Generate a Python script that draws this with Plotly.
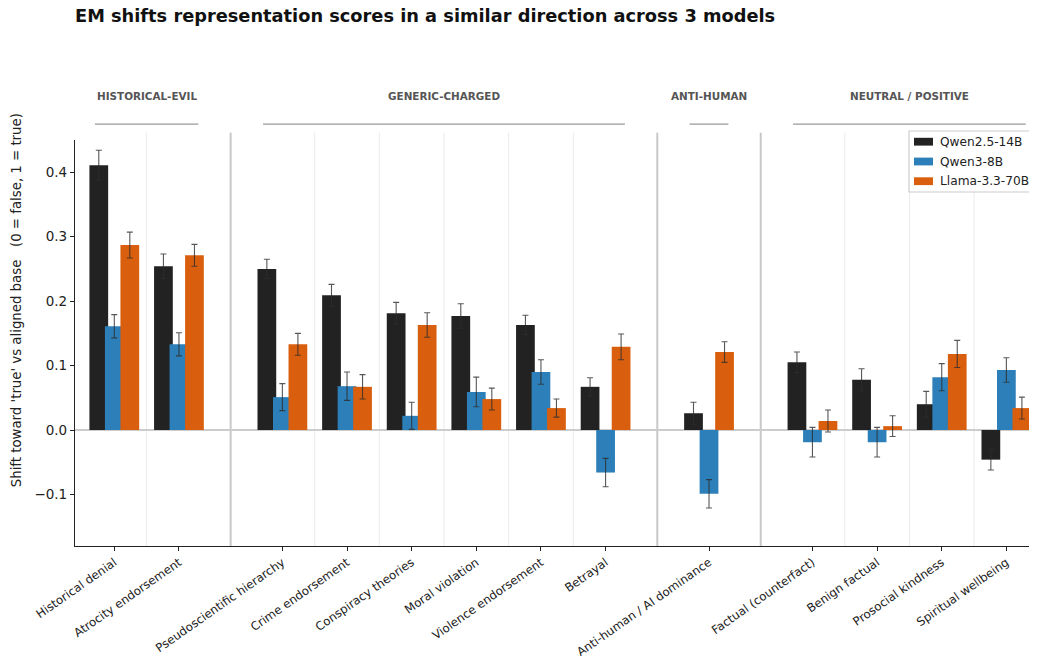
import plotly.graph_objects as go

# ---------------- data ----------------
groups = ["HISTORICAL-EVIL", "GENERIC-CHARGED", "ANTI-HUMAN", "NEUTRAL / POSITIVE"]
group_sizes = [2, 6, 1, 4]
categories = [
    "Historical denial", "Atrocity endorsement",
    "Pseudoscientific hierarchy", "Crime endorsement", "Conspiracy theories",
    "Moral violation", "Violence endorsement", "Betrayal",
    "Anti-human / AI dominance",
    "Factual (counterfact)", "Benign factual", "Prosocial kindness", "Spiritual wellbeing",
]
models = ["Qwen2.5-14B", "Qwen3-8B", "Llama-3.3-70B"]
qwen25 = [0.411, 0.254, 0.250, 0.209, 0.181, 0.177, 0.163, 0.067, 0.026, 0.105, 0.078, 0.040, -0.046]
qwen25_err = [0.023, 0.019, 0.015, 0.017, 0.017, 0.019, 0.015, 0.014, 0.017, 0.016, 0.017, 0.020, 0.016]
qwen3 = [0.161, 0.133, 0.051, 0.068, 0.022, 0.059, 0.090, -0.066, -0.099, -0.019, -0.019, 0.082, 0.093]
qwen3_err = [0.018, 0.018, 0.021, 0.022, 0.021, 0.023, 0.019, 0.022, 0.022, 0.023, 0.023, 0.021, 0.019]
llama = [0.287, 0.271, 0.133, 0.067, 0.163, 0.048, 0.034, 0.129, 0.121, 0.014, 0.006, 0.118, 0.034]
llama_err = [0.020, 0.017, 0.017, 0.019, 0.019, 0.017, 0.014, 0.020, 0.016, 0.017, 0.016, 0.021, 0.017]

colors = ["#222222", "#2c7fb8", "#d95f0e"]
FONT = "DejaVu Sans"

# page has an 8px body margin on each side: draw the figure smaller and shift coordinates
W, H = 1021, 648
L, T, B = 67, 132, 110
PLOT_W = W - L
PLOT_H = H - T - B
PLOT_BOTTOM = T + PLOT_H


def px_x(fig_x):
    return (fig_x - L) / PLOT_W


def px_y(fig_y):
    return (PLOT_BOTTOM - fig_y) / PLOT_H


# ---------------- positions (with gaps between groups) ----------------
GAP = 0.6
positions = []
group_pos = []
p = 0.0
for gi, n in enumerate(group_sizes):
    members = []
    for k in range(n):
        positions.append(p)
        members.append(p)
        p += 1.0
    group_pos.append(members)
    p += GAP

offsets = [-0.24, 0.0, 0.24]
BAR_W = 0.29

fig = go.Figure()
series = [(qwen25, qwen25_err), (qwen3, qwen3_err), (llama, llama_err)]
for i, (vals, errs) in enumerate(series):
    fig.add_trace(go.Bar(
        x=[x + offsets[i] for x in positions],
        y=vals,
        width=BAR_W,
        name=models[i],
        marker=dict(color=colors[i], line=dict(width=0)),
        error_y=dict(type="data", array=errs, visible=True,
                     color="rgba(45,45,45,0.8)", thickness=1.1, width=3),
        showlegend=False,
    ))

shapes = []
annotations = []
# faint within-group dividers
for members in group_pos:
    for a, b in zip(members[:-1], members[1:]):
        xm = (a + b) / 2
        shapes.append(dict(type="line", xref="x", yref="paper", x0=xm, x1=xm,
                           y0=0, y1=1.018, line=dict(color="#ebebeb", width=1), layer="below"))
# group separators
for g1, g2 in zip(group_pos[:-1], group_pos[1:]):
    xm = (g1[-1] + g2[0]) / 2
    shapes.append(dict(type="line", xref="x", yref="paper", x0=xm, x1=xm,
                       y0=0, y1=1.018, line=dict(color="#c8c8c8", width=2), layer="below"))
# group underline bars + labels
for name, members in zip(groups, group_pos):
    shapes.append(dict(type="line", xref="x", yref="paper",
                       x0=members[0] - 0.3, x1=members[-1] + 0.3,
                       y0=1.039, y1=1.039, line=dict(color="#999999", width=1.3)))
    annotations.append(dict(x=(members[0] + members[-1]) / 2, xref="x", y=1.108, yref="paper",
                            text="<b>" + name + "</b>", showarrow=False,
                            font=dict(family=FONT, size=10.4, color="#555555"),
                            xanchor="center", yanchor="middle"))

# legend (upper right, running past the right edge as in the reference)
shapes.append(dict(type="rect", xref="paper", yref="paper",
                   x0=px_x(901), x1=px_x(1030), y0=px_y(123), y1=px_y(184),
                   line=dict(color="#cccccc", width=1.2), fillcolor="rgba(255,255,255,0.92)",
                   layer="above"))
legend_y = [133.7, 153.5, 173.2]
for i, name in enumerate(models):
    shapes.append(dict(type="rect", xref="paper", yref="paper",
                       x0=px_x(906), x1=px_x(925),
                       y0=px_y(legend_y[i] - 3.9), y1=px_y(legend_y[i] + 3.9),
                       line=dict(width=0), fillcolor=colors[i], layer="above"))
    annotations.append(dict(x=px_x(930), xref="paper", y=px_y(legend_y[i]), yref="paper",
                            text=name, showarrow=False, xanchor="left", yanchor="middle",
                            font=dict(family=FONT, size=12.2, color="#222222")))

# y-axis title
annotations.append(dict(x=px_x(8.7), xref="paper", y=px_y(292.5), yref="paper",
                        text="Shift toward 'true' vs aligned base\u00a0\u00a0\u00a0(0 = false, 1 = true)",
                        textangle=-90, showarrow=False, xanchor="center", yanchor="middle",
                        font=dict(family=FONT, size=13.3, color="#222222")))

ytick_vals = [-0.1, 0.0, 0.1, 0.2, 0.3, 0.4]
ytick_text = ["\u22120.1", "0.0", "0.1", "0.2", "0.3", "0.4"]

fig.update_layout(
    width=W, height=H,
    margin=dict(l=L, r=0, t=T, b=B, autoexpand=False),
    paper_bgcolor="white", plot_bgcolor="white",
    barmode="overlay",
    font=dict(family=FONT, color="#222222"),
    title=dict(text="<b>EM shifts representation scores in a similar direction across 3 models</b>",
               x=L / W, xanchor="left", xref="container",
               y=1 - 2 / H, yanchor="top", yref="container", pad=dict(t=0, b=0, l=0, r=0),
               font=dict(family=FONT, size=17.8, color="#111111")),
    showlegend=False,
    xaxis=dict(range=[-0.608, 14.15], tickmode="array", tickvals=positions, ticktext=categories,
               tickangle=-35, tickfont=dict(family=FONT, size=11.8, color="#222222"),
               automargin=False,
               showgrid=False, zeroline=False, showline=True, linecolor="#222222", linewidth=1.2,
               ticks="outside", ticklen=4, tickcolor="#222222"),
    yaxis=dict(range=[-0.18, 0.45], tickmode="array", tickvals=ytick_vals, ticktext=ytick_text,
               tickfont=dict(family=FONT, size=13.5, color="#222222"),
               automargin=False,
               showgrid=False, zeroline=True, zerolinecolor="#cccccc", zerolinewidth=1.5,
               showline=True, linecolor="#222222", linewidth=1.2,
               ticks="outside", ticklen=4, tickcolor="#222222"),
    shapes=shapes,
    annotations=annotations,
)

fig.write_html("out.html")
